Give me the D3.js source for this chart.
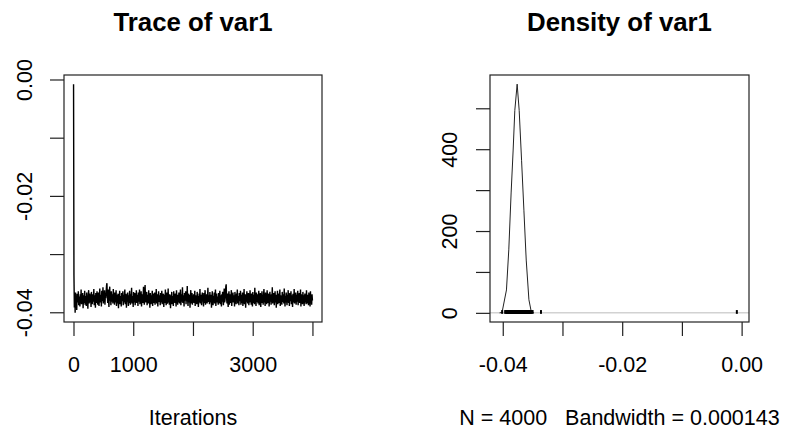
<!DOCTYPE html>
<html>
<head>
<meta charset="utf-8">
<script src="https://cdn.jsdelivr.net/npm/d3@7"></script>
<style>
body { margin: 0; background: #fff; }
text { font-family: "Liberation Sans", Arial, sans-serif; fill: #000; }
</style>
</head>
<body>
<svg id="chart" width="789" height="432"></svg>
<script>
// chain values, sampled roughly every 7th iteration
var traceValues = [
-0.0008, -0.0336,
-0.0392, -0.0370, -0.0401, -0.0366, -0.0385, -0.0375, -0.0396, -0.0368, -0.0379, -0.0383, -0.0364, -0.0388, -0.0373, -0.0377, -0.0390, -0.0369, -0.0382, -0.0361, -0.0386, -0.0374,
-0.0380, -0.0367, -0.0393, -0.0376, -0.0371, -0.0384, -0.0363, -0.0387, -0.0378, -0.0372, -0.0389, -0.0366, -0.0381, -0.0375, -0.0394, -0.0370, -0.0362, -0.0385, -0.0377, -0.0368,
-0.0383, -0.0373, -0.0391, -0.0365, -0.0379, -0.0386, -0.0369, -0.0374, -0.0382, -0.0360, -0.0388, -0.0376, -0.0371, -0.0392, -0.0367, -0.0380, -0.0384, -0.0364, -0.0378, -0.0387,
-0.0372, -0.0366, -0.0389, -0.0375, -0.0359, -0.0383, -0.0377, -0.0370, -0.0390, -0.0363, -0.0381, -0.0374, -0.0357, -0.0385, -0.0368, -0.0379, -0.0362, -0.0387, -0.0371, -0.0376,
-0.0365, -0.0354, -0.0350, -0.0372, -0.0384, -0.0361, -0.0378, -0.0391, -0.0367, -0.0356, -0.0380, -0.0373, -0.0388, -0.0364, -0.0376, -0.0382, -0.0369, -0.0385, -0.0360, -0.0379,
-0.0371, -0.0387, -0.0366, -0.0375, -0.0383, -0.0362, -0.0389, -0.0377, -0.0370, -0.0385, -0.0368, -0.0393, -0.0374, -0.0380, -0.0363, -0.0386, -0.0372, -0.0378, -0.0390, -0.0367,
-0.0381, -0.0376, -0.0364, -0.0388, -0.0370, -0.0383, -0.0373, -0.0361, -0.0386, -0.0379, -0.0368, -0.0392, -0.0375, -0.0382, -0.0366, -0.0377, -0.0389, -0.0371, -0.0384, -0.0363,
-0.0374, -0.0387, -0.0369, -0.0380, -0.0358, -0.0385, -0.0376, -0.0372, -0.0391, -0.0365, -0.0383, -0.0378, -0.0367, -0.0388, -0.0373, -0.0381, -0.0362, -0.0384, -0.0377, -0.0370,
-0.0389, -0.0366, -0.0382, -0.0375, -0.0361, -0.0386, -0.0371, -0.0379, -0.0364, -0.0390, -0.0377, -0.0369, -0.0384, -0.0373, -0.0356, -0.0380, -0.0387, -0.0368, -0.0353, -0.0378,
-0.0383, -0.0372, -0.0365, -0.0388, -0.0376, -0.0370, -0.0385, -0.0362, -0.0381, -0.0374, -0.0392, -0.0367, -0.0379, -0.0386, -0.0371, -0.0377, -0.0363, -0.0389, -0.0375, -0.0368,
-0.0384, -0.0378, -0.0366, -0.0387, -0.0373, -0.0381, -0.0360, -0.0385, -0.0376, -0.0369, -0.0390, -0.0374, -0.0364, -0.0382, -0.0379, -0.0371, -0.0388, -0.0367, -0.0383, -0.0375,
-0.0363, -0.0386, -0.0372, -0.0380, -0.0368, -0.0391, -0.0377, -0.0370, -0.0384, -0.0361, -0.0379, -0.0388, -0.0374, -0.0366, -0.0385, -0.0381, -0.0359, -0.0383, -0.0373, -0.0387,
-0.0369, -0.0378, -0.0393, -0.0371, -0.0382, -0.0365, -0.0386, -0.0376, -0.0372, -0.0389, -0.0364, -0.0380, -0.0375, -0.0384, -0.0368, -0.0377, -0.0390, -0.0362, -0.0381, -0.0374,
-0.0387, -0.0370, -0.0383, -0.0366, -0.0379, -0.0385, -0.0373, -0.0361, -0.0388, -0.0376, -0.0369, -0.0382, -0.0357, -0.0384, -0.0378, -0.0371, -0.0390, -0.0367, -0.0380, -0.0375,
-0.0364, -0.0386, -0.0372, -0.0381, -0.0355, -0.0379, -0.0389, -0.0368, -0.0376, -0.0383, -0.0370, -0.0392, -0.0374, -0.0362, -0.0385, -0.0378, -0.0367, -0.0387, -0.0373, -0.0381,
-0.0369, -0.0384, -0.0376, -0.0363, -0.0389, -0.0371, -0.0380, -0.0375, -0.0386, -0.0365, -0.0382, -0.0372, -0.0391, -0.0378, -0.0368, -0.0383, -0.0360, -0.0385, -0.0377, -0.0370,
-0.0388, -0.0374, -0.0366, -0.0381, -0.0379, -0.0390, -0.0367, -0.0384, -0.0372, -0.0362, -0.0387, -0.0376, -0.0380, -0.0369, -0.0385, -0.0373, -0.0358, -0.0382, -0.0378, -0.0371,
-0.0386, -0.0365, -0.0383, -0.0375, -0.0370, -0.0392, -0.0377, -0.0364, -0.0381, -0.0388, -0.0372, -0.0379, -0.0366, -0.0385, -0.0374, -0.0361, -0.0389, -0.0376, -0.0368, -0.0383,
-0.0373, -0.0380, -0.0387, -0.0367, -0.0378, -0.0384, -0.0363, -0.0386, -0.0371, -0.0375, -0.0390, -0.0369, -0.0382, -0.0365, -0.0377, -0.0388, -0.0374, -0.0359, -0.0383, -0.0379,
-0.0370, -0.0356, -0.0352, -0.0376, -0.0385, -0.0368, -0.0381, -0.0391, -0.0373, -0.0364, -0.0387, -0.0378, -0.0369, -0.0384, -0.0375, -0.0362, -0.0389, -0.0372, -0.0380, -0.0366,
-0.0383, -0.0377, -0.0371, -0.0390, -0.0365, -0.0382, -0.0374, -0.0386, -0.0368, -0.0379, -0.0361, -0.0385, -0.0376, -0.0372, -0.0388, -0.0367, -0.0381, -0.0375, -0.0363, -0.0387,
-0.0378, -0.0370, -0.0384, -0.0366, -0.0389, -0.0373, -0.0380, -0.0360, -0.0386, -0.0377, -0.0369, -0.0392, -0.0374, -0.0382, -0.0364, -0.0379, -0.0385, -0.0371, -0.0367, -0.0388,
-0.0376, -0.0383, -0.0362, -0.0381, -0.0372, -0.0387, -0.0368, -0.0378, -0.0390, -0.0365, -0.0384, -0.0375, -0.0370, -0.0386, -0.0358, -0.0380, -0.0373, -0.0389, -0.0366, -0.0382,
-0.0377, -0.0369, -0.0385, -0.0374, -0.0363, -0.0388, -0.0371, -0.0381, -0.0367, -0.0391, -0.0376, -0.0379, -0.0364, -0.0384, -0.0372, -0.0387, -0.0370, -0.0360, -0.0383, -0.0375,
-0.0389, -0.0366, -0.0380, -0.0373, -0.0386, -0.0362, -0.0378, -0.0384, -0.0371, -0.0368, -0.0390, -0.0377, -0.0365, -0.0382, -0.0374, -0.0387, -0.0369, -0.0379, -0.0357, -0.0385,
-0.0372, -0.0381, -0.0367, -0.0388, -0.0376, -0.0364, -0.0383, -0.0370, -0.0392, -0.0375, -0.0379, -0.0363, -0.0386, -0.0373, -0.0368, -0.0384, -0.0377, -0.0361, -0.0389, -0.0371,
-0.0380, -0.0374, -0.0387, -0.0365, -0.0382, -0.0378, -0.0369, -0.0385, -0.0359, -0.0376, -0.0390, -0.0372, -0.0383, -0.0366, -0.0379, -0.0388, -0.0370, -0.0375, -0.0362, -0.0384,
-0.0373, -0.0389, -0.0367, -0.0381, -0.0377, -0.0364, -0.0386, -0.0371, -0.0380, -0.0391, -0.0368, -0.0376, -0.0383, -0.0360, -0.0385, -0.0374, -0.0378, -0.0366, -0.0387, -0.0370,
-0.0382, -0.0375, -0.0363, -0.0388, -0.0372, -0.0379, -0.0367, -0.0384, -0.0376, -0.0361, -0.0390, -0.0369, -0.0381, -0.0374, -0.0386, -0.0365, -0.0380, -0.0371, -0.0389, -0.0377,
-0.0368, -0.0383, -0.0374, -0.0386, -0.0362, -0.0379, -0.0385, -0.0370, -0.0377, -0.0388, -0.0366, -0.0381, -0.0373, -0.0390, -0.0364, -0.0384, -0.0371, -0.0387, -0.0369, -0.0380
];
var nIter = 4000;
var bandwidth = 0.000143;

// kernel density
var densityX = [-0.04053, -0.04012, -0.03938, -0.03899, -0.03860, -0.03826, -0.03798, -0.03759, -0.03725, -0.03685, -0.03646, -0.03607, -0.03562, -0.03523, -0.03480];
var densityY = [0, 1, 56, 154, 293, 398, 495, 559, 495, 373, 251, 129, 32, 3, 0];

var iterTicks = [0, 1000, 2000, 3000, 4000];
var iterTickLabels = ["0", "1000", "", "3000", ""];
var valueTicks = [0, -0.01, -0.02, -0.03, -0.04];
var valueTickLabels = ["0.00", "", "-0.02", "", "-0.04"];
var densXTicks = [-0.04, -0.03, -0.02, -0.01, 0];
var densXTickLabels = ["-0.04", "", "-0.02", "", "0.00"];
var densYTicks = [0, 100, 200, 300, 400, 500];
var densYTickLabels = ["0", "", "200", "", "400", ""];

var fontSize = 21.5;
var svg = d3.select("#chart");

function pad(lo, hi) {
	var r = hi - lo;
	return [lo - 0.04 * r, hi + 0.04 * r];
}

var left = {x0: 64, x1: 322, y0: 75, y1: 322};
var right = {x0: 490, x1: 749, y0: 75, y1: 322};

var vmin = d3.min(traceValues), vmax = d3.max(traceValues);
var step = (nIter - 1) / (traceValues.length - 1);

var xL = d3.scaleLinear().domain(pad(1, nIter)).range([left.x0, left.x1]);
var yL = d3.scaleLinear().domain(pad(vmin, vmax)).range([left.y1, left.y0]);

var xR = d3.scaleLinear().domain(pad(vmin - 3 * bandwidth, vmax + 3 * bandwidth)).range([right.x0, right.x1]);
var yR = d3.scaleLinear().domain(pad(0, d3.max(densityY))).range([right.y1, right.y0]);

function styleAxis(g) {
	g.select(".domain").remove();
	g.selectAll("line").attr("stroke", "#222").attr("stroke-width", 1.2);
	g.selectAll("text").attr("font-size", fontSize).attr("fill", "#000");
}

function bottomAxis(scale, ticks, labels, box) {
	var g = svg.append("g")
		.attr("transform", "translate(0," + box.y1 + ")")
		.call(d3.axisBottom(scale).tickValues(ticks).tickSize(14).tickFormat((d, i) => labels[i]));
	styleAxis(g);
	g.selectAll("text").attr("dy", null).attr("y", 50);
}

function leftAxis(scale, ticks, labels, box, labelX) {
	var g = svg.append("g")
		.attr("transform", "translate(" + box.x0 + ",0)")
		.call(d3.axisLeft(scale).tickValues(ticks).tickSize(14).tickFormat((d, i) => labels[i]));
	styleAxis(g);
	g.selectAll("text")
		.attr("x", null).attr("dy", null)
		.attr("text-anchor", "middle")
		.attr("transform", "translate(" + (labelX - box.x0) + ",0) rotate(-90)");
}

// ---- trace panel
var traceLine = d3.line()
	.x((d, i) => xL(1 + i * step))
	.y(d => yL(d));

svg.append("path")
	.datum(traceValues)
	.attr("d", traceLine)
	.attr("fill", "none")
	.attr("stroke", "#000")
	.attr("stroke-width", 1.4)
	.attr("stroke-linejoin", "bevel");

svg.append("rect")
	.attr("x", left.x0).attr("y", left.y0)
	.attr("width", left.x1 - left.x0).attr("height", left.y1 - left.y0)
	.attr("fill", "none").attr("stroke", "#222").attr("stroke-width", 1.2);

bottomAxis(xL, iterTicks, iterTickLabels, left);
leftAxis(yL, valueTicks, valueTickLabels, left, 32);

svg.append("text")
	.attr("x", (left.x0 + left.x1) / 2).attr("y", 31)
	.attr("text-anchor", "middle").attr("font-weight", "bold").attr("font-size", 25.8)
	.text("Trace of var1");

svg.append("text")
	.attr("x", (left.x0 + left.x1) / 2).attr("y", 425)
	.attr("text-anchor", "middle").attr("font-size", fontSize)
	.text("Iterations");

// ---- density panel
svg.append("line")
	.attr("x1", right.x0).attr("x2", right.x1)
	.attr("y1", yR(0)).attr("y2", yR(0))
	.attr("stroke", "#bbb").attr("stroke-width", 1);

var densLine = d3.line()
	.x((d, i) => xR(densityX[i]))
	.y(d => yR(d));

svg.append("path")
	.datum(densityY)
	.attr("d", densLine)
	.attr("fill", "none")
	.attr("stroke", "#222")
	.attr("stroke-width", 1);

// observations along the bottom
var rugH = d3.max(densityY) / 100;
svg.append("g")
	.selectAll("line")
	.data(traceValues)
	.enter()
	.append("line")
	.attr("x1", d => xR(d)).attr("x2", d => xR(d))
	.attr("y1", yR(0) + 1).attr("y2", yR(rugH) - 0.5)
	.attr("stroke", "#000")
	.attr("stroke-width", 2);

svg.append("rect")
	.attr("x", right.x0).attr("y", right.y0)
	.attr("width", right.x1 - right.x0).attr("height", right.y1 - right.y0)
	.attr("fill", "none").attr("stroke", "#222").attr("stroke-width", 1.2);

bottomAxis(xR, densXTicks, densXTickLabels, right);
leftAxis(yR, densYTicks, densYTickLabels, right, 457);

svg.append("text")
	.attr("x", (right.x0 + right.x1) / 2).attr("y", 31)
	.attr("text-anchor", "middle").attr("font-weight", "bold").attr("font-size", 25.8)
	.text("Density of var1");

svg.append("text")
	.attr("x", (right.x0 + right.x1) / 2).attr("y", 425)
	.attr("text-anchor", "middle").attr("font-size", fontSize)
	.attr("xml:space", "preserve")
	.style("white-space", "pre")
	.text("N = " + nIter + "   Bandwidth = " + bandwidth);
</script>
</body>
</html>
